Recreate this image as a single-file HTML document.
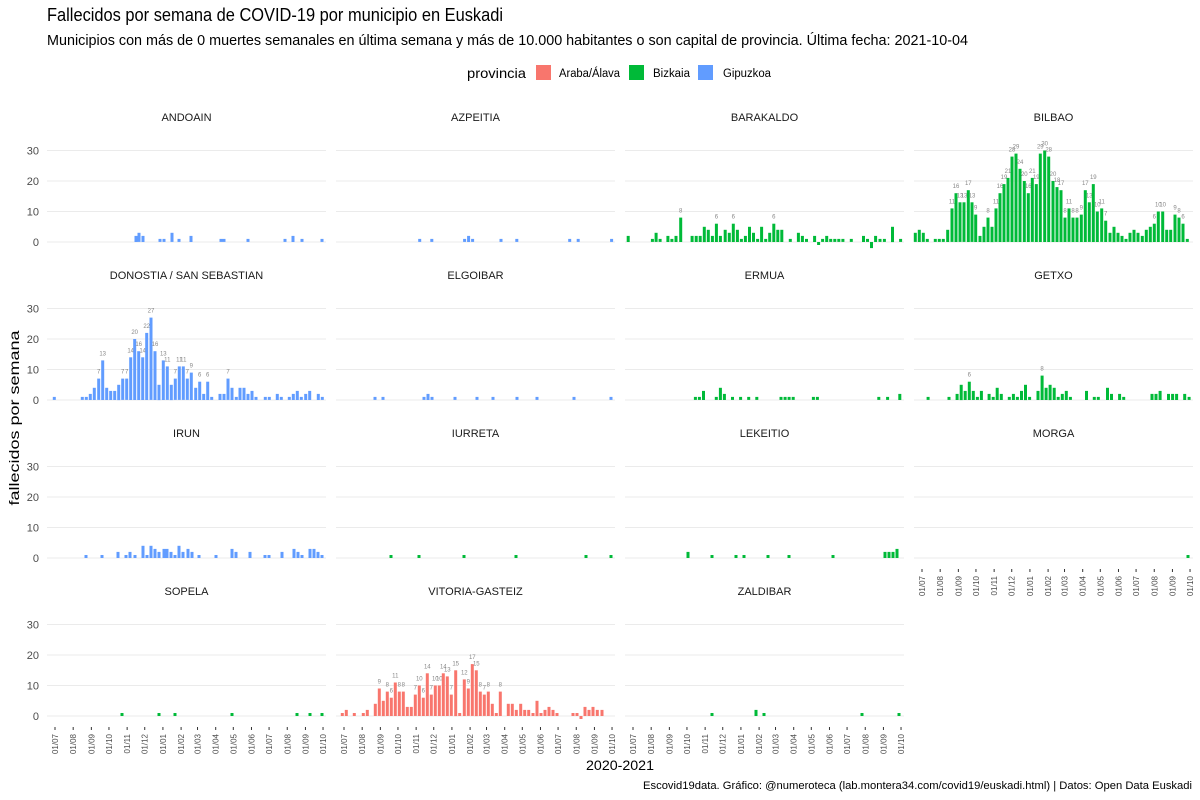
<!DOCTYPE html>
<html><head><meta charset="utf-8"><style>
body{margin:0;background:#fff}
svg{display:block;font-family:"Liberation Sans",sans-serif}
</style></head><body>
<svg id="s" width="1200" height="800" xmlns="http://www.w3.org/2000/svg">
<rect width="1200" height="800" fill="#fff"/>
<text x="47" y="21" font-size="18" textLength="456" lengthAdjust="spacingAndGlyphs" fill="#000">Fallecidos por semana de COVID-19 por municipio en Euskadi</text>
<text x="47" y="45" font-size="14.5" textLength="921" lengthAdjust="spacingAndGlyphs" fill="#000">Municipios con más de 0 muertes semanales en última semana y más de 10.000 habitantes o son capital de provincia. Última fecha: 2021-10-04</text>
<text x="467" y="78" font-size="14" textLength="59" lengthAdjust="spacingAndGlyphs">provincia</text>
<rect x="536" y="65" width="15" height="15" fill="#F8766D"/>
<text x="559" y="77" font-size="11.5" textLength="61" lengthAdjust="spacingAndGlyphs">Araba/Álava</text>
<rect x="629" y="65" width="15" height="15" fill="#00BA38"/>
<text x="653" y="77" font-size="11.5" textLength="37" lengthAdjust="spacingAndGlyphs">Bizkaia</text>
<rect x="698" y="65" width="15" height="15" fill="#619CFF"/>
<text x="723" y="77" font-size="11.5" textLength="48" lengthAdjust="spacingAndGlyphs">Gipuzkoa</text>
<text transform="translate(19,418) rotate(-90)" text-anchor="middle" font-size="14" textLength="175" lengthAdjust="spacingAndGlyphs">fallecidos por semana</text>
<text x="620" y="770" text-anchor="middle" font-size="14" textLength="68" lengthAdjust="spacingAndGlyphs">2020-2021</text>
<text x="1192" y="789" text-anchor="end" font-size="11" textLength="549" lengthAdjust="spacingAndGlyphs">Escovid19data. Gráfico: @numeroteca (lab.montera34.com/covid19/euskadi.html) | Datos: Open Data Euskadi</text>
<g id="g"></g>
</svg>
<script>
var R='#F8766D',G='#00BA38',B='#619CFF';
var cols=[47,336,625,914],base=[242,400,558,716],U=3.05;
function zp(ox,s,arr){var o=[];for(var i=0;i<arr.length;i+=2)o.push([ox+arr[i]/s,arr[i+1]]);return o;}
function ab(arr){var o=[];for(var i=0;i<arr.length;i+=2)o.push([arr[i],arr[i+1]]);return o;}
var P=[
['ANDOAIN',0,0,B,ab([136,2,139,3,143,2,160,1,164,1,172,3,179,1,191,2,221,1,224,1,248,1,285,1,293,2,302,1,322,1])],
['AZPEITIA',0,1,B,zp(330,2.72,[244,1,277,1,366,1,377,2,388,1,465,1,508,1,652,1,675,1,766,1])],
['BARAKALDO',0,2,G,zp(330,2.72,[811,2,877,1,887,3,898,1,919,2,930,1,941,2,954,8,985,2,996,2,1007,2,1018,5,1029,4,1040,2,1051,6,1062,2,1075,4,1086,3,1097,6,1108,4,1119,1,1130,2,1141,5,1152,3,1163,1,1174,5,1185,1,1196,3,1207,6,1218,4,1229,4,1252,1,1274,3,1285,2,1296,1,1318,2,1329,-1,1340,1,1351,2,1362,1,1373,1,1384,1,1395,1,1418,1,1451,2,1462,1,1473,-2,1484,2,1496,1,1508,1,1530,5,1552,1])],
['BILBAO',0,3,G,zp(910,3,[16,3,28,4,40,3,52,1,76,1,88,1,100,1,113,4,126,11,138,16,150,13,162,13,175,17,186,13,197,9,210,2,222,5,234,8,246,5,258,11,270,16,282,19,294,21,306,28,318,29,330,24,343,20,355,16,367,21,379,19,391,29,404,30,416,28,429,20,441,18,453,17,465,8,477,11,489,8,501,8,514,9,526,17,538,13,550,19,562,10,575,11,587,7,600,3,612,5,624,3,636,2,648,1,660,3,672,4,684,3,697,2,709,4,721,5,733,6,745,10,758,10,770,4,782,4,795,9,807,8,819,6,832,1])],
['DONOSTIA / SAN SEBASTIAN',1,0,B,zp(40,3,[43,1,127,1,139,1,151,2,163,4,176,7,188,13,200,4,212,3,224,3,236,5,248,7,260,7,272,14,284,20,296,16,308,14,320,22,333,27,345,16,357,5,370,13,382,11,394,5,406,7,418,11,430,11,442,7,454,9,467,4,479,6,491,2,503,6,515,1,540,2,552,2,564,7,576,4,589,1,600,4,612,4,624,2,636,3,648,1,676,1,688,1,712,2,724,1,748,1,760,2,772,3,784,1,797,2,809,3,835,2,847,1])],
['ELGOIBAR',1,1,B,ab([375,1,383,1,424,1,428,2,432,1,455,1,477,1,493,1,517,1,537,1,574,1,611,1])],
['ERMUA',1,2,G,zp(620,2.72,[205,1,216,1,227,3,262,1,273,4,284,2,306,1,328,1,350,1,372,1,438,1,449,1,460,1,471,1,526,1,537,1,704,1,728,1,761,2])],
['GETXO',1,3,G,zp(620,2.72,[838,1,895,1,917,2,928,5,939,3,950,6,961,3,972,1,983,3,1004,2,1015,1,1026,4,1037,2,1059,1,1070,2,1081,1,1092,3,1103,5,1114,1,1137,3,1148,8,1159,4,1170,5,1181,4,1192,1,1203,2,1214,3,1225,1,1269,3,1290,1,1301,1,1326,4,1337,2,1359,2,1370,1,1447,2,1458,2,1469,3,1492,2,1503,2,1514,2,1536,2,1548,1])],
['IRUN',2,0,B,ab([86,1,102,1,118,2,126,1,130,2,135,1,143,4,147,1,151,4,155,3,159,2,164,3,167,3,171,2,175,1,179,4,183,2,188,3,192,2,199,1,216,1,232,3,236,2,250,2,265,1,269,1,282,2,294,3,298,2,302,1,310,3,314,3,318,2,322,1])],
['IURRETA',2,1,G,ab([391,1,419,1,464,1,516,1,586,1,611,1])],
['LEKEITIO',2,2,G,ab([688,2,712,1,736,1,744,1,768,1,789,1,833,1,885,2,889,2,893,2,897,3])],
['MORGA',2,3,G,ab([1188,1])],
['SOPELA',3,0,G,ab([122,1,159,1,175,1,232,1,297,1,310,1,322,1])],
['VITORIA-GASTEIZ',3,1,R,zp(330,3,[37,1,49,2,73,1,100,1,112,2,136,4,148,9,160,5,172,8,184,6,196,11,208,8,220,8,232,3,244,3,256,7,268,10,280,6,292,14,304,7,316,10,328,10,340,14,352,13,364,7,377,15,389,1,403,12,415,9,427,17,439,15,451,8,463,7,475,8,487,4,499,1,511,8,535,4,547,4,559,2,572,4,584,2,596,2,609,1,621,5,633,1,645,2,657,3,669,2,681,1,729,1,741,1,753,-1,765,3,777,2,789,3,802,2,816,2])],
['ZALDIBAR',3,2,G,ab([712,1,756,2,764,1,862,1,899,1])]
];
var h='';
P.forEach(function(p){
 var r=p[1],c=p[2],L=cols[c],b0=base[r];
 h+='<text x="'+(L+139.5)+'" y="'+(b0-121)+'" text-anchor="middle" font-size="11" fill="#1a1a1a">'+p[0]+'</text>';
 for(var k=0;k<4;k++){var y=b0-k*10*U;h+='<line x1="'+L+'" x2="'+(L+279)+'" y1="'+y+'" y2="'+y+'" stroke="#ebebeb" stroke-width="1.1"/>';
  if(c==0)h+='<text x="39" y="'+(y+4)+'" text-anchor="end" font-size="11" fill="#4d4d4d">'+(k*10)+'</text>';}
 p[4].forEach(function(d){var x=d[0],v=d[1];var y=v>=0?b0-v*U:b0,hh=Math.abs(v)*U;
  h+='<rect x="'+(x-1.5).toFixed(1)+'" y="'+y.toFixed(1)+'" width="3" height="'+hh.toFixed(1)+'" fill="'+p[3]+'"/>';
  if(v>=6)h+='<text x="'+x.toFixed(1)+'" y="'+(b0-v*U-5).toFixed(1)+'" text-anchor="middle" font-size="6" fill="#888">'+v+'</text>';});
});
// axes ticks
var months=[[0,'01/07'],[31,'01/08'],[62,'01/09'],[92,'01/10'],[123,'01/11'],[153,'01/12'],[184,'01/01'],[215,'01/02'],[243,'01/03'],[274,'01/04'],[304,'01/05'],[335,'01/06'],[365,'01/07'],[396,'01/08'],[427,'01/09'],[457,'01/10']];
[[0,716],[1,716],[2,716],[3,558]].forEach(function(a){var x0=55+289*a[0],b0=a[1];
 months.forEach(function(m){var x=x0+m[0]*0.5865;
  h+='<line x1="'+x+'" x2="'+x+'" y1="'+(b0+11)+'" y2="'+(b0+14)+'" stroke="#333" stroke-width="1"/>';
  h+='<text transform="translate('+(x+3)+','+(b0+18)+') rotate(-90)" text-anchor="end" font-size="8" fill="#4d4d4d">'+m[1]+'</text>';});
});
document.getElementById('g').innerHTML=h;
</script>
</body></html>
